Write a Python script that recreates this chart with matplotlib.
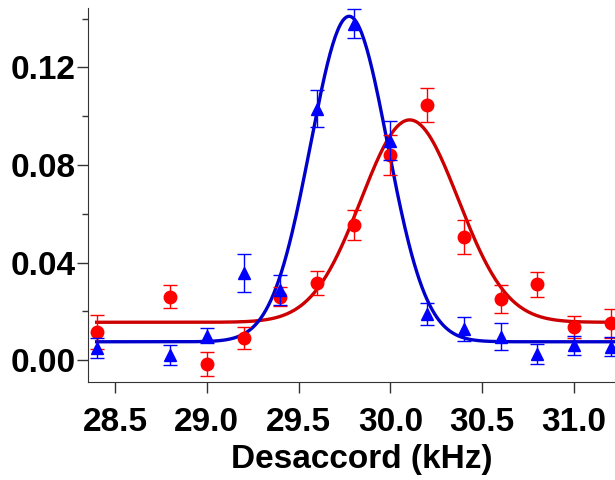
import numpy as np
import matplotlib
matplotlib.use("Agg")
import matplotlib.pyplot as plt
from matplotlib.ticker import MultipleLocator

plt.rcParams["font.family"] = ["Liberation Sans", "DejaVu Sans"]
plt.rcParams["font.weight"] = "bold"

# detuning (kHz)
detuning = [28.4, 28.8, 29.0, 29.2, 29.4, 29.6, 29.8, 30.0, 30.2, 30.4, 30.6, 30.8, 31.0, 31.2]

# red circles
red_y = [0.0115, 0.026, -0.0016, 0.009, 0.026, 0.0316, 0.0554, 0.084, 0.1047, 0.0506, 0.025, 0.031, 0.0137, 0.015]
red_err = [0.0068, 0.0047, 0.005, 0.0045, 0.004, 0.005, 0.006, 0.0083, 0.007, 0.007, 0.0058, 0.005, 0.0045, 0.006]

# blue triangles
blue_y = [0.005, 0.002, 0.010, 0.0358, 0.0287, 0.103, 0.138, 0.090, 0.019, 0.0127, 0.0096, 0.0025, 0.006, 0.0055]
blue_err = [0.004, 0.004, 0.003, 0.0077, 0.006, 0.0076, 0.0058, 0.008, 0.0045, 0.005, 0.0055, 0.004, 0.004, 0.004]

# gaussian fit parameters: offset, amplitude, center, sigma
red_fit = (0.0155, 0.083, 30.105, 0.265)
blue_fit = (0.0075, 0.1335, 29.775, 0.21)

x_ticks = [28.5, 29.0, 29.5, 30.0, 30.5, 31.0]
y_ticks = [0.00, 0.04, 0.08, 0.12]


def gauss(x, offset, amp, x0, sigma):
    return offset + amp * np.exp(-(x - x0) ** 2 / (2 * sigma ** 2))


fig = plt.figure(figsize=(6.15, 4.8), dpi=100)
ax = fig.add_axes([88 / 615, 98 / 480, 527 / 615, 374 / 480])

xs = np.linspace(28.4, 31.25, 400)
ax.plot(xs, gauss(xs, *red_fit), color="#cc0000", lw=2.4, zorder=2)
ax.plot(xs, gauss(xs, *blue_fit), color="#0000cc", lw=2.4, zorder=3)

ax.errorbar(detuning, red_y, yerr=red_err, fmt="o", color="#ff0000", ms=9,
            capsize=5, elinewidth=1, capthick=1, zorder=4, clip_on=False)
ax.errorbar(detuning, blue_y, yerr=blue_err, fmt="^", color="#0000ff", ms=9,
            capsize=5, elinewidth=1, capthick=1, zorder=5, clip_on=False)

ax.set_xlim(28.353, 31.223)
ax.set_ylim(-0.009, 0.1444)
ax.set_xticks(x_ticks)
ax.set_xticklabels([f"{v:.1f}" for v in x_ticks])
ax.set_yticks(y_ticks)
ax.set_yticklabels([f"{v:.2f}" for v in y_ticks])
ax.yaxis.set_minor_locator(MultipleLocator(0.02))

ax.spines["top"].set_visible(False)
ax.spines["right"].set_visible(False)
ax.spines["left"].set_color("#333333")
ax.spines["bottom"].set_color("#333333")
ax.tick_params(axis="both", which="major", length=8, width=1, color="#333333",
               labelsize=24)
ax.tick_params(axis="x", which="major", pad=10)
ax.tick_params(axis="y", which="major", pad=1)
ax.tick_params(axis="y", which="minor", length=4.5, width=1, color="#333333")
for lab in ax.get_xticklabels() + ax.get_yticklabels():
    lab.set_fontweight("bold")

ax.set_xlabel("Desaccord (kHz)", fontsize=24, fontweight="bold", labelpad=5)
ax.xaxis.set_label_coords(0.52, -0.165)

fig.savefig("out.png", dpi=100)
